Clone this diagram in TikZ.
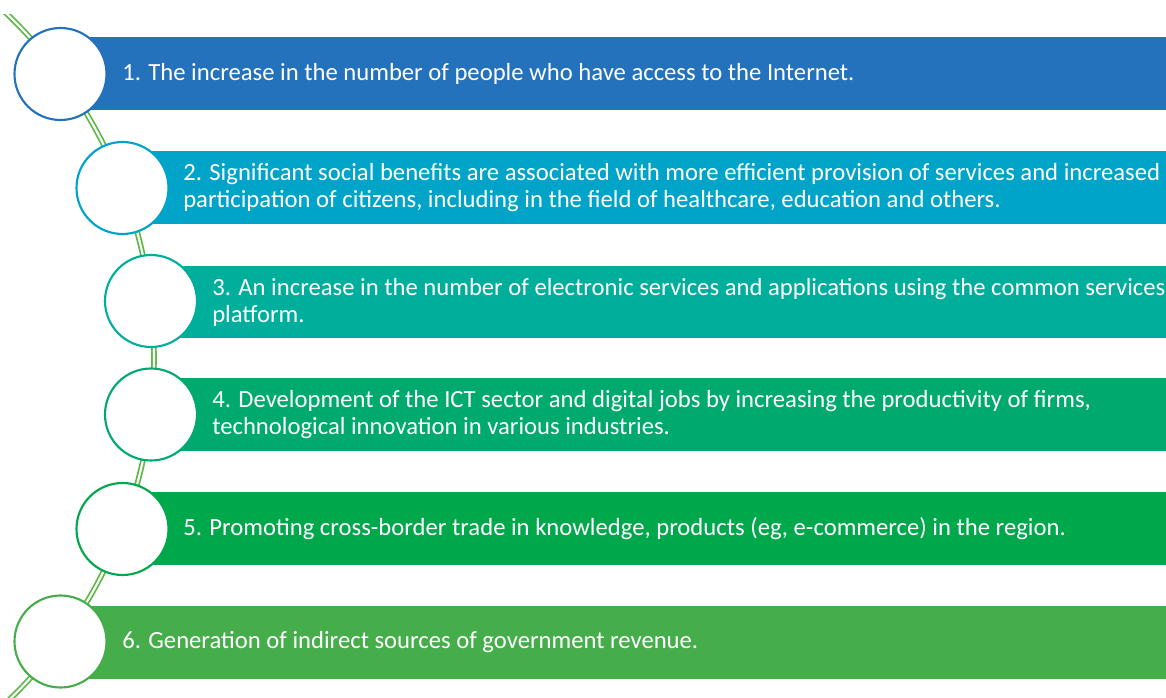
\documentclass[tikz,border=0pt]{standalone}
\usepackage{fontspec}
\setmainfont{Carlito}
\definecolor{cA}{HTML}{2372BB}
\definecolor{cB}{HTML}{00A4C8}
\definecolor{cC}{HTML}{00AE9C}
\definecolor{cD}{HTML}{00AA6E}
\definecolor{cE}{HTML}{00A84C}
\definecolor{cF}{HTML}{45AE4B}
\definecolor{linegreen}{HTML}{5DB847}
\tikzset{
  barbox/.style={fill=#1, draw=none},
  ringnode/.style={circle, draw=#1, line width=1.6pt, fill=white, minimum size=69pt, inner sep=0pt},
  bartext/.style={anchor=west, text=white, align=left, inner sep=0pt,
    font=\fontsize{18.5}{20.3}\selectfont},
  chain/.style={draw=linegreen, double=white, double distance=1.6pt, line width=1.3pt}
}
\begin{document}
\begin{tikzpicture}[x=0.75pt, y=-0.75pt]
\useasboundingbox (0,0) rectangle (1166,698);
% decorative arc (part of a large circle, clipped to the picture)
\begin{scope}
  \clip (0,15) rectangle (1166,698);
  \coordinate (arcc) at (-322,358);
  \draw[chain] (arcc) circle[radius=357pt];
\end{scope}
% bars
\fill[barbox=cA] (60.5,37) rectangle (1166,110);
\fill[barbox=cB] (122.5,151) rectangle (1166,224);
\fill[barbox=cC] (151,266) rectangle (1166,338);
\fill[barbox=cD] (151,378) rectangle (1166,451);
\fill[barbox=cE] (122.5,492) rectangle (1166,565);
\fill[barbox=cF] (60.5,606) rectangle (1166,679);
% circles
\node[ringnode=cA] (c1) at (60.5,74) {};
\node[ringnode=cB] (c2) at (122.5,188) {};
\node[ringnode=cC] (c3) at (151,301) {};
\node[ringnode=cD] (c4) at (151,414.5) {};
\node[ringnode=cE] (c5) at (122.5,529) {};
\node[ringnode=cF] (c6) at (60.5,641.5) {};
% texts
\node[bartext] (t1) at (122,74) {1. The increase in the number of people who have access to the Internet.};
\node[bartext] (t2) at (183,187.5) {2. Significant social benefits are associated with more efficient provision of services and increased\\participation of citizens, including in the field of healthcare, education and others.};
\node[bartext] (t3) at (212,302) {3. An increase in the number of electronic services and applications using the common services\\platform.};
\node[bartext] (t4) at (212,414.5) {4. Development of the ICT sector and digital jobs by increasing the productivity of firms,\\technological innovation in various industries.};
\node[bartext] (t5) at (183,528.5) {5. Promoting cross-border trade in knowledge, products (eg, e-commerce) in the region.};
\node[bartext] (t6) at (122,642) {6. Generation of indirect sources of government revenue.};
\end{tikzpicture}
\end{document}
